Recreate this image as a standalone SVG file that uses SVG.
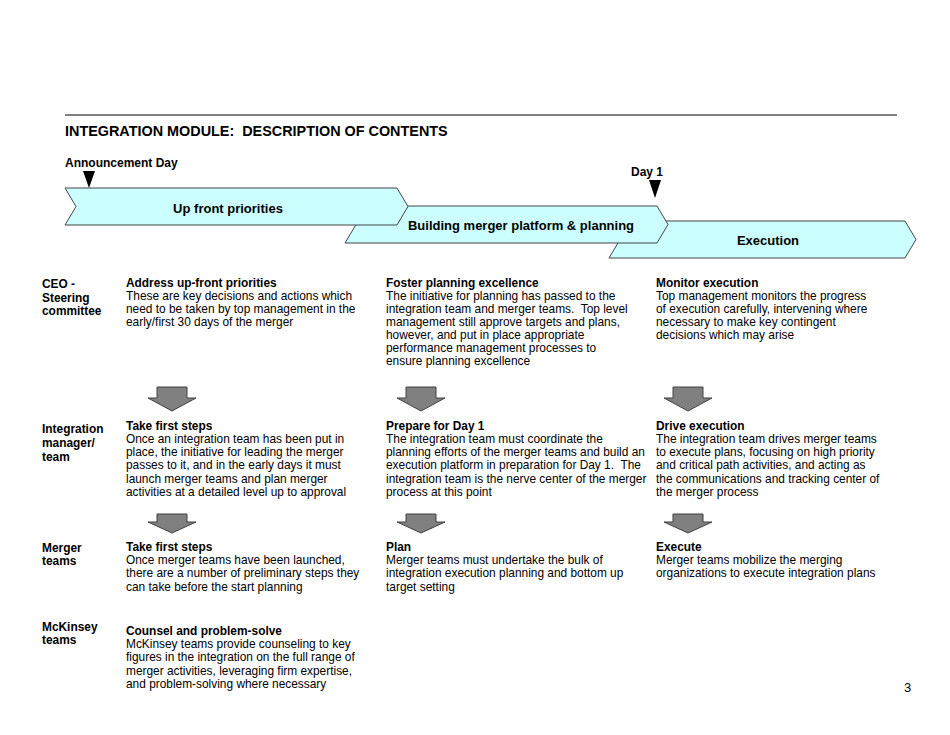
<svg xmlns="http://www.w3.org/2000/svg" width="950" height="735" viewBox="0 0 950 735">
<defs>
<style>
text{font-family:"Liberation Sans",Arial,sans-serif;fill:#000;white-space:pre}
.t{font-size:14.4px;font-weight:bold}
.m{font-size:12px;font-weight:bold}
.c{font-size:13px;font-weight:bold}
.l{font-size:11.9px;font-weight:bold}
.h{font-size:11.9px;font-weight:bold}
.b{font-size:11.9px}
.chev{fill:#CCFFFF;stroke:#444;stroke-width:1}
.arr{fill:#808080;stroke:#404040;stroke-width:1}
.tri{fill:#000}
</style>
</defs>
<rect width="950" height="735" fill="#fff"/>
<line x1="65" y1="115" x2="897" y2="115" stroke="#000" stroke-width="1"/>
<text class="t" x="65" y="136" xml:space="preserve">INTEGRATION MODULE:  DESCRIPTION OF CONTENTS</text>

<g id="markers">
<text class="m" x="65" y="167">Announcement Day</text>
<polygon class="tri" points="83,171 95,171 89,188"/>
<text class="m" x="631" y="176">Day 1</text>
<polygon class="tri" points="649,180 661,180 655,198"/>
</g>

<g id="phase-execution">
<polygon class="chev" points="609,221 905,221 916,239.5 905,258 609,258 620,239.5"/>
<text class="c" x="768" y="244.5" text-anchor="middle">Execution</text>
</g>
<g id="phase-building">
<polygon class="chev" points="345,206 657,206 668,224.5 657,243 345,243 356,224.5"/>
<text class="c" x="521" y="229.5" text-anchor="middle">Building merger platform &amp; planning</text>
</g>
<g id="phase-upfront">
<polygon class="chev" points="65,188 397,188 408,206.5 397,225 65,225 76,206.5"/>
<text class="c" x="228" y="212.5" text-anchor="middle">Up front priorities</text>
</g>

<g id="row-labels">
<text class="l" x="42" y="288">CEO -</text>
<text class="l" x="42" y="302">Steering</text>
<text class="l" x="42" y="315">committee</text>
<text class="l" x="42" y="433">Integration</text>
<text class="l" x="42" y="447">manager/</text>
<text class="l" x="42" y="461">team</text>
<text class="l" x="42" y="552">Merger</text>
<text class="l" x="42" y="565">teams</text>
<text class="l" x="42" y="631">McKinsey</text>
<text class="l" x="42" y="644">teams</text>
</g>

<g id="ceo-upfront">
<text class="h" x="126" y="287">Address up-front priorities</text>
<text class="b" x="126" y="300">These are key decisions and actions which</text>
<text class="b" x="126" y="313">need to be taken by top management in the</text>
<text class="b" x="126" y="326">early/first 30 days of the merger</text>
</g>
<g id="ceo-planning">
<text class="h" x="386" y="287">Foster planning excellence</text>
<text class="b" x="386" y="300">The initiative for planning has passed to the</text>
<text class="b" x="386" y="313" xml:space="preserve">integration team and merger teams.  Top level</text>
<text class="b" x="386" y="326">management still approve targets and plans,</text>
<text class="b" x="386" y="339">however, and put in place appropriate</text>
<text class="b" x="386" y="352">performance management processes to</text>
<text class="b" x="386" y="365">ensure planning excellence</text>
</g>
<g id="ceo-execution">
<text class="h" x="656" y="287">Monitor execution</text>
<text class="b" x="656" y="300">Top management monitors the progress</text>
<text class="b" x="656" y="313">of execution carefully, intervening where</text>
<text class="b" x="656" y="326">necessary to make key contingent</text>
<text class="b" x="656" y="339">decisions which may arise</text>
</g>

<g id="int-upfront">
<text class="h" x="126" y="430">Take first steps</text>
<text class="b" x="126" y="443">Once an integration team has been put in</text>
<text class="b" x="126" y="456">place, the initiative for leading the merger</text>
<text class="b" x="126" y="469">passes to it, and in the early days it must</text>
<text class="b" x="126" y="483">launch merger teams and plan merger</text>
<text class="b" x="126" y="496">activities at a detailed level up to approval</text>
</g>
<g id="int-planning">
<text class="h" x="386" y="430">Prepare for Day 1</text>
<text class="b" x="386" y="443">The integration team must coordinate the</text>
<text class="b" x="386" y="456">planning efforts of the merger teams and build an</text>
<text class="b" x="386" y="469" xml:space="preserve">execution platform in preparation for Day 1.  The</text>
<text class="b" x="386" y="483">integration team is the nerve center of the merger</text>
<text class="b" x="386" y="496">process at this point</text>
</g>
<g id="int-execution">
<text class="h" x="656" y="430">Drive execution</text>
<text class="b" x="656" y="443">The integration team drives merger teams</text>
<text class="b" x="656" y="456">to execute plans, focusing on high priority</text>
<text class="b" x="656" y="469">and critical path activities, and acting as</text>
<text class="b" x="656" y="483">the communications and tracking center of</text>
<text class="b" x="656" y="496">the merger process</text>
</g>

<g id="mt-upfront">
<text class="h" x="126" y="551">Take first steps</text>
<text class="b" x="126" y="564">Once merger teams have been launched,</text>
<text class="b" x="126" y="577">there are a number of preliminary steps they</text>
<text class="b" x="126" y="591">can take before the start planning</text>
</g>
<g id="mt-planning">
<text class="h" x="386" y="551">Plan</text>
<text class="b" x="386" y="564">Merger teams must undertake the bulk of</text>
<text class="b" x="386" y="577">integration execution planning and bottom up</text>
<text class="b" x="386" y="591">target setting</text>
</g>
<g id="mt-execution">
<text class="h" x="656" y="551">Execute</text>
<text class="b" x="656" y="564">Merger teams mobilize the merging</text>
<text class="b" x="656" y="577">organizations to execute integration plans</text>
</g>

<g id="mck">
<text class="h" x="126" y="635">Counsel and problem-solve</text>
<text class="b" x="126" y="648">McKinsey teams provide counseling to key</text>
<text class="b" x="126" y="661">figures in the integration on the full range of</text>
<text class="b" x="126" y="675">merger activities, leveraging firm expertise,</text>
<text class="b" x="126" y="688">and problem-solving where necessary</text>
</g>

<g id="connectors">
<polygon class="arr" points="157,387 187,387 187,398 196,398 172,411 148,398 157,398"/>
<polygon class="arr" points="406,387 436,387 436,398 445,398 421,411 397,398 406,398"/>
<polygon class="arr" points="673,387 703,387 703,398 712,398 688,411 664,398 673,398"/>
<polygon class="arr" points="157,514 187,514 187,522 196,522 172,533 148,522 157,522"/>
<polygon class="arr" points="406,514 436,514 436,522 445,522 421,533 397,522 406,522"/>
<polygon class="arr" points="673,514 703,514 703,522 712,522 688,533 664,522 673,522"/>
</g>

<text x="904" y="692" font-size="13" style="font-family:'Liberation Sans',Arial,sans-serif">3</text>
</svg>
